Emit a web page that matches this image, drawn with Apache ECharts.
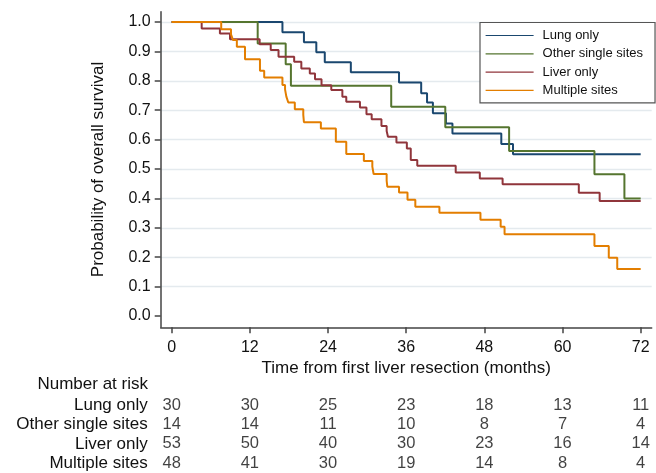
<!DOCTYPE html>
<html>
<head>
<meta charset="utf-8">
<script src="https://cdn.jsdelivr.net/npm/echarts@6/dist/echarts.min.js"></script>
<style>
  html, body { margin: 0; background: #fff; }
  #chart { width: 656px; height: 473px; }
</style>
</head>
<body>
<div id="chart"></div>
<script>
// groups, in legend order
const groups = ['Lung only', 'Other single sites', 'Liver only', 'Multiple sites']
const colors = ['#1a476f', '#55752f', '#90353b', '#e37e00']

// Kaplan-Meier steps (months, survival)
const lungTimes = [0, 17.0, 20.3, 22.2, 23.5, 27.5, 34.9, 38.3, 39.2, 40.1, 42.1, 43.1, 50.6, 52.4, 72]
const lungSurv = [1, 0.965, 0.931, 0.897, 0.863, 0.829, 0.794, 0.758, 0.726, 0.690, 0.655, 0.621, 0.585, 0.550, 0.550]

const otherTimes = [0, 13.2, 17.5, 18.3, 33.7, 42.0, 51.8, 64.9, 69.5, 72]
const otherSurv = [1, 0.927, 0.856, 0.783, 0.712, 0.642, 0.561, 0.482, 0.400, 0.400]

const liverTimes = [0, 4.6, 7.4, 8.95, 13.5, 15.2, 16.4, 18.8, 19.9, 21.2, 22.0, 23.0, 24.5, 26.2, 26.8, 28.9,
  29.9, 30.7, 32.2, 33.0, 33.2, 34.5, 36.1, 36.7, 37.7, 43.6, 47.3, 50.8, 62.5, 65.7, 72]
const liverSurv = [1, 0.978, 0.961, 0.941, 0.924, 0.905, 0.882, 0.865, 0.842, 0.825, 0.805, 0.785, 0.769, 0.746, 0.729, 0.709,
  0.686, 0.669, 0.646, 0.629, 0.610, 0.590, 0.570, 0.531, 0.511, 0.488, 0.468, 0.448, 0.419, 0.391, 0.391]

const multiTimes = [0, 7.6, 9.1, 9.4, 10.0, 11.25, 13.55, 14.2, 17.0, 17.4, 17.6, 17.9, 18.9, 20.2, 20.3, 22.9,
  25.2, 26.8, 29.5, 30.8, 31.0, 33.0, 33.1, 34.9, 36.2, 37.4, 41.1, 47.4, 50.5, 51.1, 64.9, 67.1, 68.4, 72]
const multiSurv = [1, 0.975, 0.958, 0.939, 0.916, 0.873, 0.834, 0.811, 0.786, 0.771, 0.746, 0.726, 0.703, 0.684, 0.659, 0.638,
  0.593, 0.551, 0.527, 0.508, 0.483, 0.460, 0.440, 0.420, 0.395, 0.372, 0.351, 0.327, 0.304, 0.278, 0.238, 0.198, 0.160, 0.160]

// axis ticks
const xTicks = [0, 12, 24, 36, 48, 60, 72]
const yTicks = [0, 0.1, 0.2, 0.3, 0.4, 0.5, 0.6, 0.7, 0.8, 0.9, 1.0]

// number at risk table
const riskTimes = [0, 12, 24, 36, 48, 60, 72]
const riskLung = [30, 30, 25, 23, 18, 13, 11]
const riskOther = [14, 14, 11, 10, 8, 7, 4]
const riskLiver = [53, 50, 40, 30, 23, 16, 14]
const riskMulti = [48, 41, 30, 19, 14, 8, 4]

const font = "'Liberation Sans', Arial, sans-serif"
const txt = '#111'

const curves = [
  [lungTimes, lungSurv],
  [otherTimes, otherSurv],
  [liverTimes, liverSurv],
  [multiTimes, multiSurv]
]
const risks = [riskLung, riskOther, riskLiver, riskMulti]

const kmSeries = curves.map((c, i) => ({
  name: groups[i],
  type: 'line',
  step: 'end',
  symbol: 'none',
  xAxisIndex: 0,
  yAxisIndex: 0,
  color: colors[i],
  lineStyle: { width: 2, color: colors[i] },
  data: c[0].map((t, j) => [t, c[1][j]]),
  z: 3 + i
}))

const riskData = []
risks.forEach((r, i) => {
  r.forEach((n, j) => riskData.push([riskTimes[j], groups[i], n]))
})

const chart = echarts.init(document.getElementById('chart'), null, { renderer: 'canvas' })

const option = {
  backgroundColor: '#fff',
  animation: false,
  textStyle: { fontFamily: font },
  title: {
    text: 'Number at risk',
    right: 508,
    top: 376,
    padding: 0,
    textStyle: { fontFamily: font, fontSize: 17, fontWeight: 'normal', color: txt }
  },
  legend: {
    data: groups,
    orient: 'vertical',
    left: 480,
    top: 22.5,
    padding: [6.5, 12, 6, 5],
    itemWidth: 48,
    itemHeight: 12,
    itemGap: 5.3,
    backgroundColor: '#fff',
    borderColor: '#555',
    borderWidth: 1.2,
    lineStyle: { width: 1.2 },
    itemStyle: { opacity: 0 },
    textStyle: { fontFamily: font, fontSize: 13, color: txt, padding: [0, 0, 0, 4] }
  },
  grid: [
    { left: 160.7, right: 4.3, top: 11.7, bottom: 145.7 },
    { left: 160.7, right: 4.3, top: 22, bottom: 186.4 },
    { left: 160.7, right: 4.3, top: 395.8, bottom: 0.3 }
  ],
  xAxis: [
    {
      gridIndex: 0,
      type: 'value',
      min: -1.69,
      max: 73.69,
      name: 'Time from first liver resection (months)',
      nameLocation: 'middle',
      nameGap: 28,
      nameTextStyle: { fontFamily: font, fontSize: 17, color: txt },
      axisLine: { show: true, onZero: false, lineStyle: { color: '#444', width: 1.5 } },
      axisTick: { show: true, length: 6, customValues: xTicks, lineStyle: { color: '#444', width: 1.5 } },
      axisLabel: { customValues: xTicks, margin: 12, fontFamily: font, fontSize: 16, color: txt },
      splitLine: { show: false }
    },
    { gridIndex: 1, type: 'value', min: 0, max: 1, show: false },
    { gridIndex: 2, type: 'value', min: -1.69, max: 73.69, show: false }
  ],
  yAxis: [
    {
      gridIndex: 0,
      type: 'value',
      min: -0.0384,
      max: 1.035,
      name: 'Probability of overall survival',
      nameLocation: 'middle',
      nameGap: 54,
      nameTextStyle: { fontFamily: font, fontSize: 17, color: txt },
      axisLine: { show: true, onZero: false, lineStyle: { color: '#444', width: 1.5 } },
      axisTick: { show: true, length: 6, customValues: yTicks, lineStyle: { color: '#444', width: 1.5 } },
      axisLabel: {
        customValues: yTicks,
        margin: 10,
        fontFamily: font,
        fontSize: 16,
        color: txt,
        formatter: v => v.toFixed(1)
      },
      splitLine: { show: false }
    },
    {
      // light grid lines from 0.1 to 1.0
      gridIndex: 1,
      type: 'value',
      min: 0.1,
      max: 1.0,
      interval: 0.1,
      axisLine: { show: false },
      axisTick: { show: false },
      axisLabel: { show: false },
      splitLine: { show: true, lineStyle: { color: '#e4eaee', width: 1.3 } }
    },
    {
      gridIndex: 2,
      type: 'category',
      inverse: true,
      data: groups,
      axisLine: { show: false },
      axisTick: { show: false },
      axisLabel: { interval: 0, margin: 13, fontFamily: font, fontSize: 17, color: txt }
    }
  ],
  series: [
    ...kmSeries,
    {
      name: 'risk',
      type: 'scatter',
      xAxisIndex: 2,
      yAxisIndex: 2,
      symbolSize: 0,
      data: riskData,
      label: {
        show: true,
        position: 'inside',
        fontFamily: font,
        fontSize: 16.5,
        color: txt,
        formatter: p => p.value[2]
      }
    }
  ]
}

chart.setOption(option)
</script>
</body>
</html>
